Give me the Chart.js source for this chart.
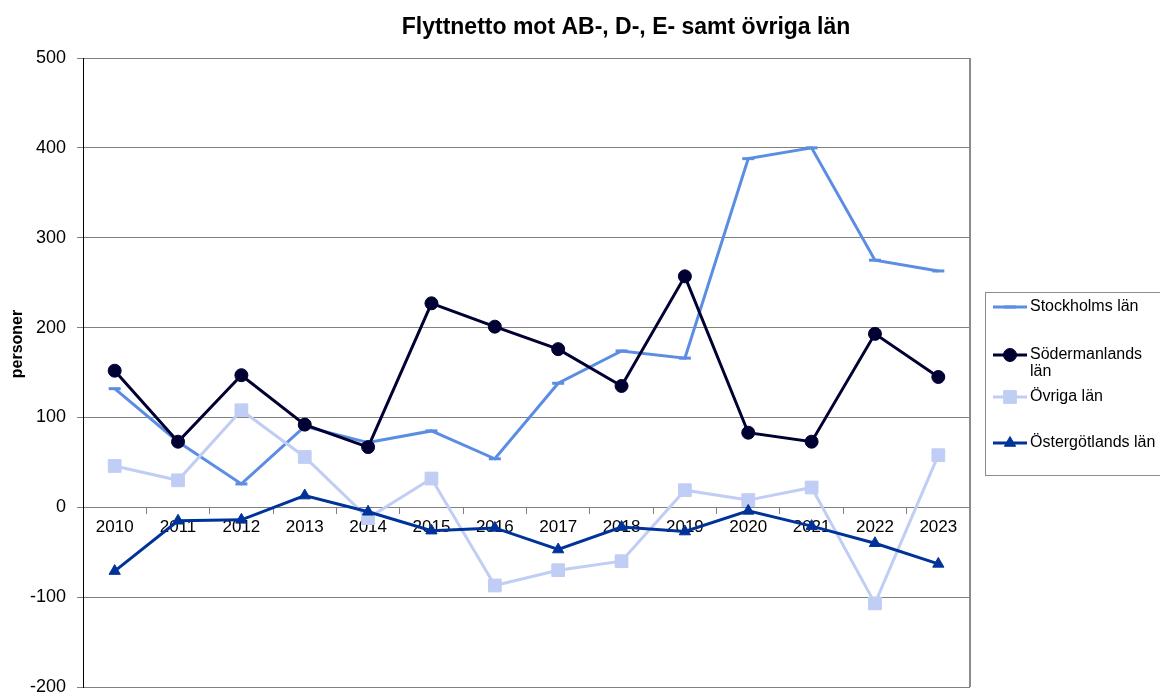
<!DOCTYPE html>
<html>
<head>
<meta charset="utf-8">
<script src="https://cdn.jsdelivr.net/npm/chart.js@4"></script>
<style>
  body { margin: 0; background: #fff; }
  #wrap { width: 1160px; height: 693px; }
</style>
</head>
<body>
<div id="wrap"><canvas id="myChart_1" width="1160" height="693"></canvas></div>
<script>
const years = ["2010", "2011", "2012", "2013", "2014", "2015", "2016", "2017", "2018", "2019", "2020", "2021", "2022", "2023"];
const stockholm = [132, 73, 26, 90, 72, 85, 54, 138, 174, 166, 388, 400, 275, 263];
const sodermanland = [152, 73, 147, 92, 67, 227, 201, 176, 135, 257, 83, 73, 193, 145];
const ovriga = [46, 30, 108, 56, -12, 32, -87, -70, -60, 19, 8, 22, -107, 58];
const ostergotland = [-71, -15, -14, 13, -5, -26, -23, -47, -22, -27, -4, -21, -40, -63];

const chartTitle = "Flyttnetto mot AB-, D-, E- samt övriga län";
const yTitle = "personer";
const FONT = '"Liberation Sans", Arial, sans-serif';

// legend + title + frame drawn by hand, the built-in ones can't be placed like this
const extras = {
  id: "extras",
  afterDraw(chart) {
    const c = chart.ctx;
    const a = chart.chartArea;
    c.save();
    // right frame
    c.strokeStyle = "#8c8c8c";
    c.lineWidth = 2;
    c.beginPath();
    c.moveTo(a.right, a.top);
    c.lineTo(a.right, a.bottom);
    c.stroke();

    c.fillStyle = "#000";
    c.font = "bold 23px " + FONT;
    c.textAlign = "center";
    c.textBaseline = "middle";
    c.fillText(chartTitle, 626, 28);

    c.translate(18, 344);
    c.rotate(-Math.PI / 2);
    c.font = "bold 16px " + FONT;
    c.fillText(yTitle, 0, 0);
    c.restore();

    // legend box
    c.save();
    c.strokeStyle = "#8c8c8c";
    c.lineWidth = 1;
    c.strokeRect(985.5, 292.5, 190, 183);
    const rows = [
      { y: 307, lines: ["Stockholms län"] },
      { y: 355, lines: ["Södermanlands", "län"] },
      { y: 397, lines: ["Övriga län"] },
      { y: 443, lines: ["Östergötlands län"] },
    ];
    c.font = "16px " + FONT;
    c.textAlign = "left";
    c.textBaseline = "middle";
    rows.forEach((r, i) => {
      const ds = chart.data.datasets[i];
      c.strokeStyle = ds.borderColor;
      c.lineWidth = 3;
      c.beginPath();
      c.moveTo(993, r.y);
      c.lineTo(1027, r.y);
      c.stroke();
      c.fillStyle = ds.borderColor;
      c.lineWidth = ds.pointStyle === "line" ? 3 : 1;
      Chart.helpers.drawPoint(c, { pointStyle: ds.pointStyle, radius: ds.pointRadius, rotation: 0, borderWidth: c.lineWidth }, 1010, r.y);
      c.fillStyle = "#000";
      r.lines.forEach((t, k) => c.fillText(t, 1030, r.y + k * 17));
    });
    c.restore();
  },
};

const ctx = document.getElementById("myChart_1").getContext("2d");

const config = {
  type: "line",
  data: {
    labels: years,
    datasets: [
      {
        label: "Stockholms län",
        data: stockholm,
        borderColor: "#5b8de3",
        backgroundColor: "#5b8de3",
        pointStyle: "line",
        pointRadius: 6,
        pointBorderWidth: 3,
        borderWidth: 3,
        order: 4,
      },
      {
        label: "Södermanlands län",
        data: sodermanland,
        borderColor: "#000033",
        backgroundColor: "#000033",
        pointStyle: "circle",
        pointRadius: 6.5,
        pointBorderWidth: 1,
        borderWidth: 3,
        order: 3,
      },
      {
        label: "Övriga län",
        data: ovriga,
        borderColor: "#c0cdf4",
        backgroundColor: "#c0cdf4",
        pointStyle: "rect",
        pointRadius: 9,
        pointBorderWidth: 1,
        borderWidth: 3,
        order: 2,
      },
      {
        label: "Östergötlands län",
        data: ostergotland,
        borderColor: "#003399",
        backgroundColor: "#003399",
        pointStyle: "triangle",
        pointRadius: 6.5,
        pointBorderWidth: 1,
        borderWidth: 3,
        order: 1,
      },
    ],
  },
  options: {
    responsive: false,
    animation: false,
    layout: { autoPadding: false, padding: { left: 0, top: 58, right: 190, bottom: 6 } },
    plugins: {
      legend: { display: false },
      title: { display: false },
      tooltip: { enabled: false },
    },
    scales: {
      x: {
        type: "category",
        offset: true,
        position: { y: 0 },
        afterFit(scale) { scale.paddingLeft = 0; scale.paddingRight = 0; },
        grid: { drawOnChartArea: false, offset: true, tickLength: 6, color: "#808080" },
        border: { color: "#808080", width: 1 },
        ticks: { color: "#000", font: { family: FONT, size: 17 }, padding: 4, maxRotation: 0, autoSkip: false },
      },
      y: {
        min: -200,
        max: 500,
        afterFit(scale) { scale.width = 83; scale.paddingTop = 0; scale.paddingBottom = 0; },
        grid: { color: "#808080", tickLength: 6 },
        border: { color: "#000", width: 1 },
        ticks: { stepSize: 100, color: "#000", font: { family: FONT, size: 18 }, padding: 11 },
      },
    },
  },
  plugins: [extras],
};

const myChart_1 = new Chart(ctx, config);
</script>
</body>
</html>
